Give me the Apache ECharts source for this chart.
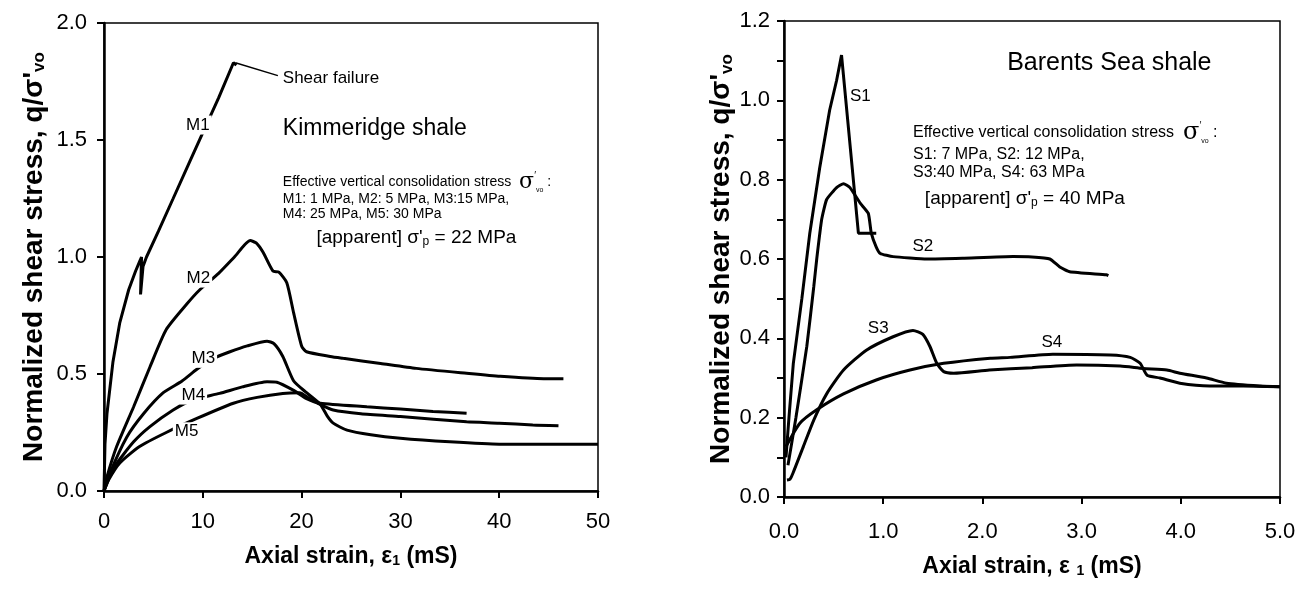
<!DOCTYPE html>
<html>
<head>
<meta charset="utf-8">
<script src="https://cdn.jsdelivr.net/npm/echarts@6/dist/echarts.min.js"></script>
<style>
html, body { margin: 0; padding: 0; background: #fff; }
#chart { width: 1307px; height: 589px; }
</style>
</head>
<body>
<div id="chart"></div>
<script>
// ---- Kimmeridge shale (left panel), [axial strain mS, q/sigma'vo] ----
const m1 = [[0, 0], [0.1, 0.2], [0.3, 0.33], [0.9, 0.55], [1.6, 0.72], [2.5, 0.86], [3.2, 0.94], [3.6, 0.98], [3.8, 1.0],
  [3.7, 0.84], [3.75, 0.84], [3.95, 0.96], [4.3, 1.0], [5.5, 1.11], [7, 1.25], [8.7, 1.41], [10.2, 1.55],
  [11.6, 1.68], [12.9, 1.81], [13.1, 1.83], [13.4, 1.82]]
const m2 = [[0, 0], [0.3, 0.06], [1.28, 0.19], [3.0, 0.36], [4.65, 0.53], [6.3, 0.69], [8.4, 0.8], [9.7, 0.86],
  [11.6, 0.93], [13.2, 1.0], [14.8, 1.07], [15.4, 1.06], [16.1, 1.02], [17.1, 0.94], [17.7, 0.935], [18.5, 0.89],
  [19.2, 0.76], [20.0, 0.62], [20.5, 0.595], [22.9, 0.575], [24.2, 0.567], [28, 0.545], [31.6, 0.524],
  [36.7, 0.503], [40.1, 0.49], [44.5, 0.48], [46.5, 0.48]]
const m3 = [[0, 0], [0.6, 0.077], [2.3, 0.23], [4.0, 0.33], [6.0, 0.42], [7.9, 0.47], [9.4, 0.52], [11, 0.565],
  [12.75, 0.595], [14.5, 0.62], [16.5, 0.64], [17.2, 0.63], [18.1, 0.575], [19.2, 0.47], [20.5, 0.42],
  [21.9, 0.37], [22.6, 0.32], [23.2, 0.29], [24.6, 0.26], [27, 0.24], [30, 0.225], [35, 0.21], [40, 0.2],
  [43.4, 0.2], [50, 0.2]]
const m4 = [[0, 0], [1, 0.1], [3.0, 0.21], [4.65, 0.275], [7.0, 0.346], [9, 0.39], [11.7, 0.417], [14, 0.445],
  [16.5, 0.467], [17.5, 0.465], [19.2, 0.43], [20.5, 0.395], [21.9, 0.375], [26.6, 0.36], [30, 0.35],
  [33.3, 0.34], [36.7, 0.332]]
const m5 = [[0, 0], [0.5, 0.05], [1.6, 0.12], [3.6, 0.19], [6.3, 0.25], [9.4, 0.31], [13.1, 0.375], [15.5, 0.4],
  [18.1, 0.417], [19.8, 0.42], [20.8, 0.395], [21.9, 0.37], [23.2, 0.346], [26, 0.33], [30, 0.318],
  [36.7, 0.296], [40, 0.29], [43.4, 0.282], [46, 0.279]]
const failureLeader = [[13.3, 1.83], [17.6, 1.775]]

// ---- Barents Sea shale (right panel) ----
const s1 = [[0.02, 0.1], [0.05, 0.2], [0.094, 0.337], [0.18, 0.5], [0.26, 0.665], [0.36, 0.83], [0.46, 0.975],
  [0.53, 1.05], [0.58, 1.114], [0.75, 0.665], [0.9, 0.665], [0.93, 0.665]]
const s2 = [[0.04, 0.08], [0.12, 0.2], [0.23, 0.38], [0.3, 0.53], [0.33, 0.6], [0.38, 0.7], [0.43, 0.75],
  [0.53, 0.78], [0.6, 0.79], [0.665, 0.78], [0.77, 0.74], [0.85, 0.715], [0.88, 0.665], [0.93, 0.63],
  [0.97, 0.614], [1.1, 0.606], [1.44, 0.6], [1.8, 0.602], [2.31, 0.606], [2.5, 0.605], [2.68, 0.6],
  [2.78, 0.58], [2.88, 0.568], [3.25, 0.56], [3.27, 0.558]]
const s3 = [[0.03, 0.043], [0.06, 0.045], [0.09, 0.06], [0.195, 0.127], [0.3, 0.194], [0.43, 0.26], [0.6, 0.32],
  [0.83, 0.37], [1.1, 0.404], [1.3, 0.42], [1.4, 0.41], [1.47, 0.38], [1.54, 0.337], [1.61, 0.316],
  [1.71, 0.312], [2.07, 0.32], [2.5, 0.326], [2.95, 0.333], [3.39, 0.33], [3.62, 0.324], [3.86, 0.32],
  [3.99, 0.312], [4.26, 0.3], [4.46, 0.287], [4.8, 0.28], [5.0, 0.278]]
const s4 = [[0.02, 0.127], [0.16, 0.186], [0.33, 0.22], [0.6, 0.26], [0.93, 0.295], [1.27, 0.32], [1.61, 0.337],
  [2.08, 0.35], [2.28, 0.352], [2.71, 0.36], [3.29, 0.358], [3.49, 0.352], [3.59, 0.337], [3.66, 0.307],
  [3.79, 0.3], [3.99, 0.287], [4.29, 0.28], [4.63, 0.28], [5.0, 0.278]]

// curve tags [text, x, y]
const leftTags = [['M1', 9.5, 1.564], ['M2', 9.55, 0.91], ['M3', 10.05, 0.567], ['M4', 9.04, 0.41], ['M5', 8.36, 0.253]]
const rightTags = [['S1', 0.77, 1.01], ['S2', 1.4, 0.631], ['S3', 0.95, 0.425], ['S4', 2.7, 0.39]]

// notes [x, y, text]  (left-aligned at x)
const leftNotes = [
  [18.1, 1.765, 'Shear failure'],
  [18.1, 1.55, 'Kimmeridge shale'],
  [18.1, 1.32, 'Effective vertical consolidation stress  {sig|σ}{pr|\u2032}{sb|vo} :'],
  [18.1, 1.248, 'M1: 1 MPa, M2: 5 MPa, M3:15 MPa,'],
  [18.1, 1.184, 'M4: 25 MPa, M5: 30 MPa'],
  [21.5, 1.081, '[apparent] σ\'{p|p} = 22 MPa']
]
const rightNotes = [
  [2.25, 1.094, 'Barents Sea shale'],
  [1.3, 0.918, 'Effective vertical consolidation stress  {sig2|σ}{pr|\u2032}{sb|vo} :'],
  [1.3, 0.862, 'S1: 7 MPa, S2: 12 MPa,'],
  [1.3, 0.819, 'S3:40 MPa, S4: 63 MPa'],
  [1.42, 0.751, '[apparent] σ\'{p|p} = 40 MPa']
]
const leftNoteSize = [17, 23, 14, 14, 14, 19]
const rightNoteSize = [25, 16, 16, 16, 19]

const FONT = '"Liberation Sans", Arial, Helvetica, sans-serif'
const chart = echarts.init(document.getElementById('chart'))

const curve = (data, gi, w, smooth) => ({
  type: 'line', xAxisIndex: gi, yAxisIndex: gi, data,
  symbol: 'none', silent: true, z: 2, smooth: smooth || false,
  lineStyle: { color: '#000', width: w || 3 }
})

const tagSeries = (tags, gi, bg) => ({
  type: 'scatter', xAxisIndex: gi, yAxisIndex: gi, symbolSize: 0, silent: true, z: 5,
  itemStyle: { opacity: 1 },
  data: tags.map(t => ({ value: [t[1], t[2]], name: t[0] })),
  label: {
    show: true, position: 'inside', formatter: '{b}', color: '#000', opacity: 1,
    textBorderWidth: 0, fontSize: 17, fontFamily: FONT,
    backgroundColor: bg ? '#fff' : 'transparent', padding: [1, 2]
  }
})

const noteRich = {
  sig: { fontSize: 22, fontFamily: '"DejaVu Serif", serif', color: '#000' },
  sig2: { fontSize: 24, fontFamily: '"DejaVu Serif", serif', color: '#000' },
  pr: { fontSize: 10, verticalAlign: 'top', color: '#000' },
  sb: { fontSize: 7, verticalAlign: 'bottom', color: '#000' },
  p: { fontSize: 12, verticalAlign: 'bottom', color: '#000' }
}

const noteSeries = (notes, sizes, gi) => ({
  type: 'scatter', xAxisIndex: gi, yAxisIndex: gi, symbolSize: 0, silent: true, z: 6,
  itemStyle: { opacity: 1 },
  data: notes.map((n, i) => ({ value: [n[0], n[1]], name: n[2], label: { fontSize: sizes[i] } })),
  label: {
    show: true, position: 'right', distance: 0, align: 'left', opacity: 1, textBorderWidth: 0,
    formatter: p => p.name, color: '#000', fontFamily: FONT, rich: noteRich
  }
})

const axisStyle = {
  axisLine: { show: true, onZero: false, lineStyle: { color: '#000', width: 2.5 } },
  axisTick: { show: true, inside: false, length: 7, lineStyle: { color: '#000', width: 2 } },
  splitLine: { show: false }
}
const labelStyle = { color: '#000', fontSize: 22, fontFamily: FONT }
const nameStyle = (size) => ({
  color: '#000', fontSize: size, fontWeight: 'bold', fontFamily: FONT,
  rich: { sub: { fontSize: Math.round(size * 0.6), fontWeight: 'bold', fontFamily: FONT, verticalAlign: 'bottom', color: '#000' } }
})

chart.setOption({
  animation: false,
  backgroundColor: '#fff',
  grid: [
    { left: 104, top: 23, width: 494, height: 468, show: true, borderColor: '#000', borderWidth: 1.5, backgroundColor: 'transparent' },
    { left: 784, top: 21, width: 496, height: 476, show: true, borderColor: '#000', borderWidth: 1.5, backgroundColor: 'transparent' }
  ],
  xAxis: [
    {
      type: 'value', gridIndex: 0, min: 0, max: 50, interval: 10, ...axisStyle,
      axisLabel: { ...labelStyle, margin: 20 },
      name: 'Axial strain, ε{sub|1} (mS)', nameLocation: 'middle', nameGap: 54, nameTextStyle: nameStyle(23)
    },
    {
      type: 'value', gridIndex: 1, min: 0, max: 5, interval: 1, ...axisStyle,
      axisLabel: { ...labelStyle, margin: 24, formatter: v => v.toFixed(1) },
      name: 'Axial strain, ε {sub|1} (mS)', nameLocation: 'middle', nameGap: 58, nameTextStyle: nameStyle(23)
    }
  ],
  yAxis: [
    {
      type: 'value', gridIndex: 0, min: 0, max: 2, interval: 0.5, ...axisStyle,
      axisLabel: { ...labelStyle, margin: 17, formatter: v => v.toFixed(1) },
      name: 'Normalized shear stress, q/σ\'{sub|vo}', nameLocation: 'middle', nameGap: 56, nameTextStyle: nameStyle(28)
    },
    {
      type: 'value', gridIndex: 1, min: 0, max: 1.2, interval: 0.1, ...axisStyle,
      axisLabel: { ...labelStyle, margin: 14, formatter: v => (Math.round(v * 10) % 2 === 0 ? v.toFixed(1) : '') },
      name: 'Normalized shear stress, q/σ\'{sub|vo}', nameLocation: 'middle', nameGap: 48, nameTextStyle: nameStyle(28)
    }
  ],
  series: [
    curve(m1, 0), curve(m2, 0, 3, 0.2), curve(m3, 0, 3, 0.2), curve(m4, 0, 3, 0.2), curve(m5, 0, 3, 0.2),
    curve(failureLeader, 0, 1.5),
    curve(s1, 1), curve(s2, 1, 3, 0.15), curve(s3, 1, 3, 0.2), curve(s4, 1, 3, 0.2),
    tagSeries(leftTags, 0, true),
    tagSeries(rightTags, 1, false),
    noteSeries(leftNotes, leftNoteSize, 0),
    noteSeries(rightNotes, rightNoteSize, 1)
  ]
})
</script>
</body>
</html>
